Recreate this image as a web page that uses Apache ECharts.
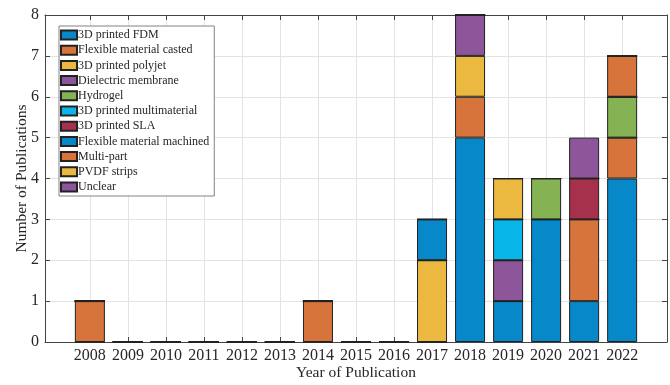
<!DOCTYPE html>
<html>
<head>
<meta charset="utf-8">
<script src="https://cdn.jsdelivr.net/npm/echarts@6/dist/echarts.min.js"></script>
<style>
  html, body { margin: 0; padding: 0; background: #fff; }
  #chart { width: 670px; height: 385px; }
</style>
</head>
<body>
<div id="chart"></div>
<script>
// Publication years (x categories)
const years = [2008, 2009, 2010, 2011, 2012, 2013, 2014, 2015, 2016, 2017, 2018, 2019, 2020, 2021, 2022];

// Publications per manufacturing approach, one value per year
const fdm          = [0, 0, 0, 0, 0, 0, 0, 0, 0, 0, 5, 1, 3, 1, 4];
const casted       = [1, 0, 0, 0, 0, 0, 1, 0, 0, 0, 1, 0, 0, 2, 1];
const polyjet      = [0, 0, 0, 0, 0, 0, 0, 0, 0, 2, 1, 0, 0, 0, 0];
const dielectric   = [0, 0, 0, 0, 0, 0, 0, 0, 0, 0, 1, 1, 0, 0, 0];
const hydrogel     = [0, 0, 0, 0, 0, 0, 0, 0, 0, 0, 0, 0, 1, 0, 1];
const multimat     = [0, 0, 0, 0, 0, 0, 0, 0, 0, 0, 0, 1, 0, 0, 0];
const sla          = [0, 0, 0, 0, 0, 0, 0, 0, 0, 0, 0, 0, 0, 1, 0];
const machined     = [0, 0, 0, 0, 0, 0, 0, 0, 0, 1, 0, 0, 0, 0, 0];
const multipart    = [0, 0, 0, 0, 0, 0, 0, 0, 0, 0, 0, 0, 0, 0, 1];
const pvdf         = [0, 0, 0, 0, 0, 0, 0, 0, 0, 0, 0, 1, 0, 0, 0];
const unclear      = [0, 0, 0, 0, 0, 0, 0, 0, 0, 0, 0, 0, 0, 1, 0];

// Y axis tick values
const yTicks = [0, 1, 2, 3, 4, 5, 6, 7, 8];

const seriesDefs = [
  { name: '3D printed FDM', values: fdm, color: '#0788C9' },
  { name: 'Flexible material casted', values: casted, color: '#D7743B' },
  { name: '3D printed polyjet', values: polyjet, color: '#ECB940' },
  { name: 'Dielectric membrane', values: dielectric, color: '#8D559A' },
  { name: 'Hydrogel', values: hydrogel, color: '#85B354' },
  { name: '3D printed multimaterial', values: multimat, color: '#08B6EA' },
  { name: '3D printed SLA', values: sla, color: '#A5314C' },
  { name: 'Flexible material machined', values: machined, color: '#0788C9' },
  { name: 'Multi-part', values: multipart, color: '#D7743B' },
  { name: 'PVDF strips', values: pvdf, color: '#ECB940' },
  { name: 'Unclear', values: unclear, color: '#8D559A' }
];

const FONT = '"Liberation Serif", "Times New Roman", serif';
const AXIS_COLOR = '#444444';
const TEXT_COLOR = '#262626';
const W = 670, H = 385;
const G = { left: 45, right: 3, top: 15, bottom: 43 };

// The frame axes run past the first and last year by a fixed margin;
// the bar grid is laid out so each category band is exactly one year wide.
const xMin = years[0] - 1.18;
const xMax = years[years.length - 1] + 1.18;
const plotW = W - G.left - G.right;
const pxPerYear = plotW / (xMax - xMin);
const barGridLeft = G.left + (years[0] - 0.5 - xMin) * pxPerYear;
const barGridRight = W - (barGridLeft + years.length * pxPerYear);

const chart = echarts.init(document.getElementById('chart'), null, { renderer: 'canvas' });

const frameTick = { show: true, inside: true, length: 5, lineStyle: { color: AXIS_COLOR } };
const frameLine = { show: true, onZero: false, lineStyle: { color: AXIS_COLOR, width: 1 } };

const option = {
  animation: false,
  backgroundColor: '#ffffff',
  textStyle: { fontFamily: FONT },
  grid: [
    { left: G.left, right: G.right, top: G.top, bottom: G.bottom, containLabel: false, outerBoundsMode: 'none' },
    { left: barGridLeft, right: barGridRight, top: G.top, bottom: G.bottom, containLabel: false, outerBoundsMode: 'none' }
  ],
  legend: {
    orient: 'vertical',
    left: 59,
    top: 26,
    icon: 'rect',
    itemWidth: 16,
    itemHeight: 9,
    itemGap: 3.2,
    padding: [3, 5, 3, 1],
    backgroundColor: '#ffffff',
    borderColor: '#828282',
    borderWidth: 1,
    textStyle: { fontFamily: FONT, fontSize: 12, lineHeight: 12, color: TEXT_COLOR, padding: [0, 0, 0, -4] },
    data: seriesDefs.map(s => s.name)
  },
  xAxis: [
    {
      gridIndex: 0,
      type: 'value',
      min: xMin,
      max: xMax,
      name: 'Year of Publication',
      nameLocation: 'middle',
      nameGap: 23,
      nameMoveOverlap: false,
      nameTextStyle: { fontFamily: FONT, fontSize: 15.5, color: TEXT_COLOR, verticalAlign: 'top' },
      axisLine: frameLine,
      axisTick: Object.assign({ customValues: years }, frameTick),
      axisLabel: { show: true, customValues: years, fontFamily: FONT, fontSize: 16, color: TEXT_COLOR, margin: 6, formatter: v => String(v) },
      splitLine: { show: true, lineStyle: { color: '#e3e3e3', width: 1 } }
    },
    {
      gridIndex: 0,
      type: 'value',
      position: 'top',
      min: xMin,
      max: xMax,
      axisLine: frameLine,
      axisTick: Object.assign({ customValues: years }, frameTick),
      axisLabel: { show: false },
      splitLine: { show: false }
    },
    {
      gridIndex: 1,
      type: 'category',
      data: years.map(String),
      show: false
    }
  ],
  yAxis: [
    {
      gridIndex: 0,
      type: 'value',
      min: 0,
      max: 8,
      interval: 1,
      name: 'Number of Publications',
      nameLocation: 'middle',
      nameGap: 15,
      nameMoveOverlap: false,
      nameTextStyle: { fontFamily: FONT, fontSize: 15.5, color: TEXT_COLOR },
      axisLine: frameLine,
      axisTick: frameTick,
      axisLabel: { fontFamily: FONT, fontSize: 16, color: TEXT_COLOR, margin: 6,
        formatter: v => (yTicks.indexOf(v) >= 0 ? String(v) : '') },
      splitLine: { show: true, lineStyle: { color: '#e3e3e3', width: 1 } }
    },
    {
      gridIndex: 0,
      type: 'value',
      position: 'right',
      min: 0,
      max: 8,
      interval: 1,
      axisLine: frameLine,
      axisTick: frameTick,
      axisLabel: { show: false },
      splitLine: { show: false }
    },
    {
      gridIndex: 1,
      type: 'value',
      min: 0,
      max: 8,
      show: false
    }
  ],
  series: seriesDefs.map(s => ({
    name: s.name,
    type: 'bar',
    stack: 'total',
    xAxisIndex: 2,
    yAxisIndex: 2,
    barWidth: 30,
    itemStyle: { color: s.color, borderColor: '#222222', borderWidth: 1 },
    emphasis: { disabled: true },
    data: s.values
  }))
};

chart.setOption(option);
</script>
</body>
</html>
